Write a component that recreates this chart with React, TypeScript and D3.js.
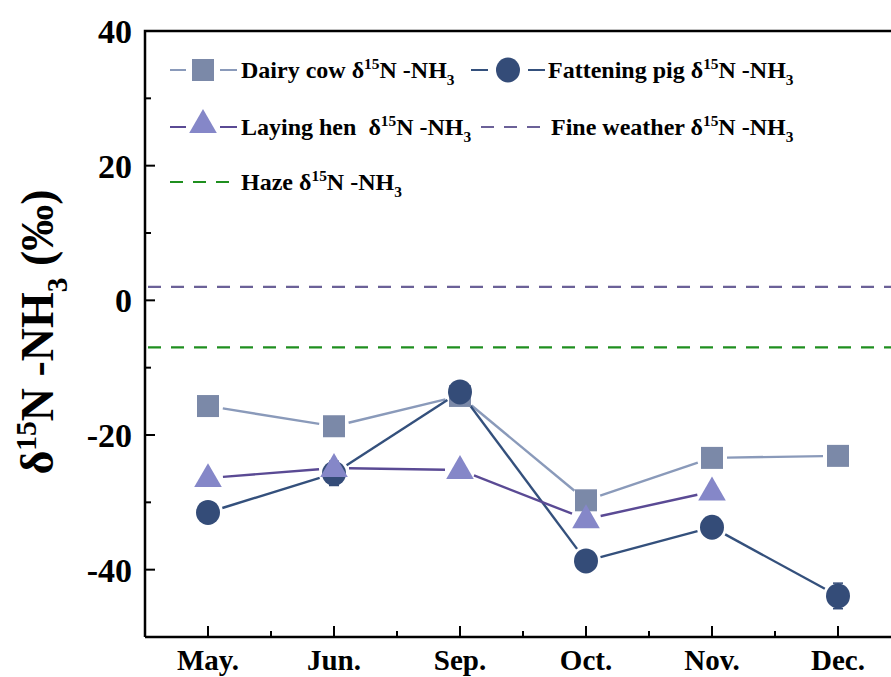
import React from 'react';
import * as d3 from 'd3';

const months = ['May.', 'Jun.', 'Sep.', 'Oct.', 'Nov.', 'Dec.'];
const dairyCow = [-15.7, -18.7, -14.2, -29.7, -23.4, -23.1];
const fatteningPig = [-31.5, -25.7, -13.6, -38.7, -33.7, -43.9];
const fatteningPigErr = [0, 1.8, 0.8, 0, 0, 1.9];
const layingHen = [-26.4, -24.9, -25.2, -32.5, -28.4, null];
const fineWeather = 2;
const haze = -7;
const yTicks = [-40, -20, 0, 20, 40];
const yMinor = [-30, -10, 10, 30];

const width = 891, height = 677;
const left = 145, top = 31, bottom = 637, right = 901;
const FONT = '"Liberation Serif", "Times New Roman", serif';

const cDairy = '#7b89a8', cDairyLine = '#8a9aba';
const cPig = '#344c78', cPigLine = '#34507c';
const cHen = '#8587c8', cHenLine = '#5a4a94';
const cFine = '#6b6198', cHaze = '#1f8f1f';

// δ15N -NH3 label with super/subscripts
function Iso({ pre, size, post }: { pre: string; size: number; post?: string }) {
  const s = size * 0.64;
  return (
    <>
      {pre}δ
      <tspan dy={-size * 0.38} fontSize={s}>15</tspan>
      <tspan dy={size * 0.38}>N -NH</tspan>
      <tspan dy={size * 0.3} fontSize={s}>3</tspan>
      <tspan dy={-size * 0.3}>{post || ''}</tspan>
    </>
  );
}

function segments(xs: number[], ys: (number | null)[], gap: number) {
  const out: string[] = [];
  for (let i = 0; i < xs.length - 1; i++) {
    if (ys[i] == null || ys[i + 1] == null) continue;
    const x1 = xs[i], y1 = ys[i] as number, x2 = xs[i + 1], y2 = ys[i + 1] as number;
    const dx = x2 - x1, dy = y2 - y1, len = Math.sqrt(dx * dx + dy * dy);
    if (len < gap * 2) continue;
    const ux = dx / len, uy = dy / len;
    out.push(`M${x1 + ux * gap},${y1 + uy * gap}L${x2 - ux * gap},${y2 - uy * gap}`);
  }
  return out;
}

function Square({ x, y }: { x: number; y: number }) {
  return <rect x={x - 11} y={y - 11} width={22} height={22} fill={cDairy} />;
}
function Circle({ x, y }: { x: number; y: number }) {
  return <ellipse cx={x} cy={y} rx={12} ry={12.5} fill={cPig} />;
}
function Tri({ x, y }: { x: number; y: number }) {
  const sym = d3.symbol().type(d3.symbolTriangle).size(330)();
  return <path d={sym as string} transform={`translate(${x},${y + 1})`} fill={cHen} />;
}

export default function App() {
  const x = d3.scaleBand().domain(months).range([left, right]).padding(0);
  const cx = (m: string) => (x(m) as number) + x.bandwidth() / 2;
  const y = d3.scaleLinear().domain([-50, 40]).range([bottom, top]);

  const xs = months.map(cx);
  const dairyPaths = segments(xs, dairyCow.map(v => y(v)), 15);
  const pigPaths = segments(xs, fatteningPig.map(v => y(v)), 15);
  const henPaths = segments(xs, layingHen.map(v => (v == null ? null : y(v))), 15);

  const xMinor = months.slice(0, -1).map(m => (x(m) as number) + x.bandwidth());

  return (
    <svg width={width} height={height} style={{ position: 'absolute', left: 0, top: 0, background: '#fff' }}
      fontFamily={FONT} fontWeight="bold">
      {/* reference lines */}
      <line x1={left + 3} x2={width} y1={y(fineWeather)} y2={y(fineWeather)} stroke={cFine} strokeWidth={2.2} strokeDasharray="13,10" />
      <line x1={left + 3} x2={width} y1={y(haze)} y2={y(haze)} stroke={cHaze} strokeWidth={2.2} strokeDasharray="13,10" />

      {/* series lines */}
      {dairyPaths.map((d, i) => <path key={'d' + i} d={d} stroke={cDairyLine} strokeWidth={2.4} fill="none" />)}
      {pigPaths.map((d, i) => <path key={'p' + i} d={d} stroke={cPigLine} strokeWidth={2.4} fill="none" />)}
      {henPaths.map((d, i) => <path key={'h' + i} d={d} stroke={cHenLine} strokeWidth={2.4} fill="none" />)}

      {/* markers */}
      {dairyCow.map((v, i) => <Square key={'ds' + i} x={xs[i]} y={y(v)} />)}
      {fatteningPig.map((v, i) => (
        <g key={'pc' + i}>
          {fatteningPigErr[i] > 0 && (
            <g stroke={cPig} strokeWidth={1.5}>
              <line x1={xs[i]} x2={xs[i]} y1={y(v - fatteningPigErr[i])} y2={y(v + fatteningPigErr[i])} />
              <line x1={xs[i] - 5} x2={xs[i] + 5} y1={y(v - fatteningPigErr[i])} y2={y(v - fatteningPigErr[i])} />
              <line x1={xs[i] - 5} x2={xs[i] + 5} y1={y(v + fatteningPigErr[i])} y2={y(v + fatteningPigErr[i])} />
            </g>
          )}
          <Circle x={xs[i]} y={y(v)} />
        </g>
      ))}
      {layingHen.map((v, i) => v == null ? null : <Tri key={'ht' + i} x={xs[i]} y={y(v)} />)}

      {/* axes */}
      <g stroke="#000" strokeWidth={2.5} fill="none">
        <path d={`M${left},${bottom}V${top}H${width}`} />
        <path d={`M${left},${bottom}H${width}`} />
      </g>
      <g stroke="#000" strokeWidth={2}>
        {yTicks.map(t => <line key={'yt' + t} x1={left} x2={left + 10} y1={y(t)} y2={y(t)} />)}
        {yMinor.map(t => <line key={'ym' + t} x1={left} x2={left + 6} y1={y(t)} y2={y(t)} />)}
        {months.map(m => <line key={'xt' + m} x1={cx(m)} x2={cx(m)} y1={bottom} y2={bottom - 11} />)}
        {xMinor.map((v, i) => <line key={'xm' + i} x1={v} x2={v} y1={bottom} y2={bottom - 6} />)}
      </g>
      {yTicks.map(t => (
        <text key={'yl' + t} x={132} y={y(t)} dy="0.35em" textAnchor="end" fontSize={34}>{t}</text>
      ))}
      {months.map(m => (
        <text key={'xl' + m} x={cx(m)} y={670} textAnchor="middle" fontSize={29}>{m}</text>
      ))}

      {/* y title */}
      <text transform="translate(53,332) rotate(-90)" textAnchor="middle" fontSize={46}>
        <Iso pre="" size={46} post=" (‰)" />
      </text>

      {/* legend */}
      <g fontSize={24}>
        <g>
          <line x1={170} x2={186} y1={70} y2={70} stroke={cDairyLine} strokeWidth={2} />
          <line x1={220} x2={237} y1={70} y2={70} stroke={cDairyLine} strokeWidth={2} />
          <Square x={203} y={70} />
          <text x={241} y={78}><Iso pre="Dairy cow " size={24} /></text>
        </g>
        <g>
          <line x1={471} x2={488} y1={70} y2={70} stroke={cPigLine} strokeWidth={2} />
          <line x1={528} x2={545} y1={70} y2={70} stroke={cPigLine} strokeWidth={2} />
          <Circle x={508} y={70} />
          <text x={548} y={78}><Iso pre="Fattening pig " size={24} /></text>
        </g>
        <g>
          <line x1={170} x2={186} y1={127} y2={127} stroke={cHenLine} strokeWidth={2} />
          <line x1={220} x2={237} y1={127} y2={127} stroke={cHenLine} strokeWidth={2} />
          <Tri x={203} y={124} />
          <text x={241} y={135}><Iso pre={'Laying hen\u00a0 '} size={24} /></text>
        </g>
        <g>
          <line x1={481} x2={540} y1={127} y2={127} stroke={cFine} strokeWidth={2} strokeDasharray="13,10" />
          <text x={551} y={135}><Iso pre="Fine weather " size={24} /></text>
        </g>
        <g>
          <line x1={170} x2={230} y1={182} y2={182} stroke={cHaze} strokeWidth={2} strokeDasharray="13,10" />
          <text x={241} y={190}><Iso pre="Haze " size={24} /></text>
        </g>
      </g>
    </svg>
  );
}
